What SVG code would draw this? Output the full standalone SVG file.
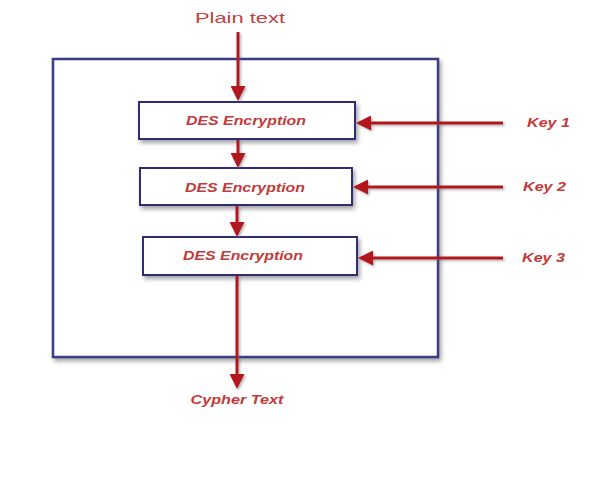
<svg xmlns="http://www.w3.org/2000/svg" width="590" height="493" viewBox="0 0 590 493">
<defs>
<filter id="sh" x="-10%" y="-10%" width="130%" height="140%">
<feDropShadow dx="2" dy="3" stdDeviation="2" flood-color="#555" flood-opacity="0.55"/>
</filter>
<filter id="lsh" filterUnits="userSpaceOnUse" x="0" y="0" width="590" height="493">
<feDropShadow dx="1.5" dy="1.5" stdDeviation="1.2" flood-color="#666" flood-opacity="0.5"/>
</filter>
<marker id="ah" markerWidth="5" markerHeight="5" refX="4" refY="2.5" orient="auto" markerUnits="strokeWidth">
<path d="M0,0 L5,2.5 L0,5 Z" fill="#b3121c"/>
</marker>
</defs>
<style>
.box{fill:#ffffff;stroke:#2e2e78;stroke-width:2;filter:url(#sh)}
.outer{fill:#ffffff;stroke:#3a3a86;stroke-width:2.5;filter:url(#sh)}
.lbl{font-family:"Liberation Sans",Arial,sans-serif;font-weight:bold;font-style:italic;font-size:13px;fill:#c23a3a}
.conn{stroke:#b3121c;stroke-width:3;fill:none;marker-end:url(#ah)}
</style>
<rect width="590" height="493" fill="#ffffff"/>
<g id="outer"><rect class="outer" x="53" y="59" width="385" height="298"/></g>
<g id="plain"><text x="240" y="23" text-anchor="middle" font-family="'Liberation Sans',Arial,sans-serif" font-size="15" fill="#c04040" textLength="90" lengthAdjust="spacingAndGlyphs">Plain  text</text></g>
<g id="des1"><rect class="box" x="139" y="102" width="216" height="37"/><text class="lbl" x="246" y="125" text-anchor="middle" textLength="120" lengthAdjust="spacingAndGlyphs">DES Encryption</text></g>
<g id="des2"><rect class="box" x="140" y="168" width="212" height="37"/><text class="lbl" x="245" y="192" text-anchor="middle" textLength="120" lengthAdjust="spacingAndGlyphs">DES Encryption</text></g>
<g id="des3"><rect class="box" x="143" y="237" width="214" height="38"/><text class="lbl" x="243" y="260" text-anchor="middle" textLength="120" lengthAdjust="spacingAndGlyphs">DES Encryption</text></g>
<g id="key1"><text class="lbl" x="527" y="127" textLength="43" lengthAdjust="spacingAndGlyphs">Key 1</text></g>
<g id="key2"><text class="lbl" x="523" y="191" textLength="43" lengthAdjust="spacingAndGlyphs">Key 2</text></g>
<g id="key3"><text class="lbl" x="522" y="262" textLength="43" lengthAdjust="spacingAndGlyphs">Key 3</text></g>
<g id="cypher"><text class="lbl" x="237" y="404" text-anchor="middle" textLength="93" lengthAdjust="spacingAndGlyphs">Cypher Text</text></g>
<g id="connectors" filter="url(#lsh)">
<line class="conn" x1="238" y1="32" x2="238" y2="98"/>
<line class="conn" x1="238" y1="140" x2="238" y2="165"/>
<line class="conn" x1="237" y1="206" x2="237" y2="234"/>
<line class="conn" x1="237" y1="276" x2="237" y2="386"/>
<line class="conn" x1="503" y1="123" x2="359" y2="123"/>
<line class="conn" x1="503" y1="187" x2="356" y2="187"/>
<line class="conn" x1="503" y1="258" x2="361" y2="258"/>
</g>
</svg>
